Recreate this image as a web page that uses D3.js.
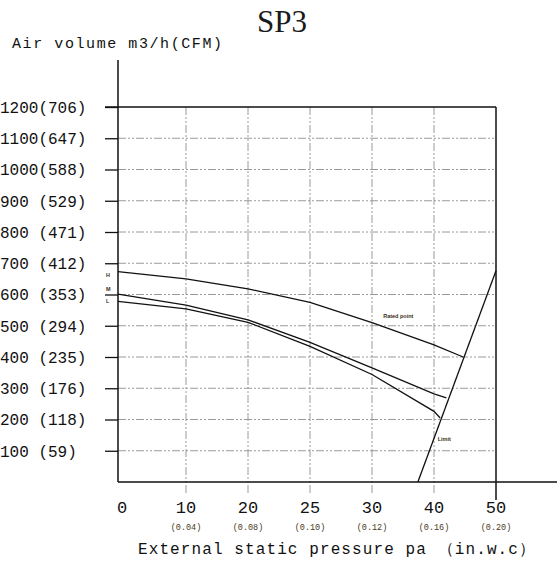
<!DOCTYPE html>
<html>
<head>
<meta charset="utf-8">
<script src="https://cdn.jsdelivr.net/npm/d3@7"></script>
<style>
  body { margin: 0; background: #fff; }
  svg { display: block; }
  .grid line { stroke: #9a9a9a; stroke-width: 1; stroke-dasharray: 8,2,2,2,2,2; }
  .lbl { font-family: "Liberation Mono", monospace; fill: #111; }
  .tiny { font-family: "Liberation Sans", Arial, sans-serif; font-weight: bold; font-size: 5.5px; fill: #3a2e1a; }
</style>
</head>
<body>
<div id="chart"></div>
<script>
// x axis categories (pa) and their in.w.c equivalents
const pressureTicks = [0, 10, 20, 25, 30, 40, 50];
const pressureInch = ["", "(0.04)", "(0.08)", "(0.10)", "(0.12)", "(0.16)", "(0.20)"];

// y axis: m3/h with CFM in brackets
const airflowTicks = [100, 200, 300, 400, 500, 600, 700, 800, 900, 1000, 1100, 1200];
const cfmTicks = [59, 118, 176, 235, 294, 353, 412, 471, 529, 588, 647, 706];

// fan curves [pressure pa, airflow m3/h]
const highSpeed = [[0, 673], [10, 650], [20, 618], [25, 575], [30, 510], [40, 439], [44.7, 400]];
const midSpeed = [[0, 601], [10, 566], [20, 519], [25, 447], [30, 365], [40, 282], [42, 269]];
const lowSpeed = [[0, 578], [10, 554], [20, 511], [25, 434], [30, 344], [40, 226], [41, 205]];
const limitLine = [[37.4, 0], [50, 676]];

const speedNames = ["H", "M", "L"];
const speedLabelAt = [661, 618, 579];

const width = 557, height = 562;
const margin = {top: 107, right: 61, bottom: 80, left: 118};
const plotW = width - margin.left - margin.right;
const plotH = height - margin.top - margin.bottom;

const svg = d3.select("#chart").append("svg")
    .attr("width", width)
    .attr("height", height);

// first gap (0 -> 10) is a bit wider than the rest
const firstGap = 6;
const x = d3.scaleLinear()
    .domain(pressureTicks)
    .range(pressureTicks.map((d, i) => margin.left + (i === 0 ? 0 : firstGap + i * (plotW - firstGap) / (pressureTicks.length - 1))));

const y = d3.scaleLinear()
    .domain([0, 1200])
    .range([margin.top + plotH, margin.top]);

// grid
const grid = svg.append("g").attr("class", "grid");
grid.selectAll(".hg")
    .data(airflowTicks.slice(0, -1))
    .join("line")
    .attr("x1", x(0)).attr("x2", x(50))
    .attr("y1", d => y(d)).attr("y2", d => y(d));
grid.selectAll(".vg")
    .data(pressureTicks.slice(1, -1))
    .join("line")
    .attr("class", "vg")
    .attr("x1", d => x(d)).attr("x2", d => x(d))
    .attr("y1", y(1200)).attr("y2", y(0) + 13);

// frame: top line, right line, axes
svg.append("line")
    .attr("x1", x(0) - 13).attr("x2", x(50))
    .attr("y1", y(1200)).attr("y2", y(1200))
    .attr("stroke", "#111").attr("stroke-width", 1.5);
svg.append("line")
    .attr("x1", x(50)).attr("x2", x(50))
    .attr("y1", y(1200)).attr("y2", y(0) + 18)
    .attr("stroke", "#111").attr("stroke-width", 1.5);

// y axis
const yAxis = d3.axisLeft(y)
    .tickValues(airflowTicks)
    .tickSize(13)
    .tickFormat("");
const yg = svg.append("g")
    .attr("transform", `translate(${x(0)},0)`)
    .call(yAxis);
yg.select(".domain").remove();
yg.selectAll(".tick line").attr("stroke", "#111").attr("stroke-width", 1.3);
svg.append("line")
    .attr("x1", x(0)).attr("x2", x(0))
    .attr("y1", 60).attr("y2", y(0))
    .attr("stroke", "#111").attr("stroke-width", 1.5);

// x axis line runs to the right edge
svg.append("line")
    .attr("x1", x(0)).attr("x2", width)
    .attr("y1", y(0)).attr("y2", y(0))
    .attr("stroke", "#111").attr("stroke-width", 1.5);

// y tick labels
svg.selectAll(".ylab")
    .data(airflowTicks)
    .join("text")
    .attr("class", "lbl")
    .attr("x", 0)
    .attr("y", d => y(d))
    .attr("dy", "0.36em")
    .style("font-size", "16px")
    .text((d, i) => d >= 1000 ? `${d}(${cfmTicks[i]})` : `${d} (${cfmTicks[i]})`);

// x tick labels
svg.selectAll(".xlab")
    .data(pressureTicks)
    .join("text")
    .attr("class", "lbl")
    .attr("x", d => x(d) + (d === 0 ? 4 : 0))
    .attr("y", y(0) + 31)
    .attr("text-anchor", "middle")
    .style("font-size", "17px")
    .text(d => d);

svg.selectAll(".xsub")
    .data(pressureInch)
    .join("text")
    .attr("x", (d, i) => x(pressureTicks[i]))
    .attr("y", y(0) + 48)
    .attr("text-anchor", "middle")
    .style("font-family", "Liberation Mono, monospace")
    .style("font-size", "8.5px")
    .style("fill", "#4a3b22")
    .text(d => d);

// titles
svg.append("text")
    .attr("x", 257).attr("y", 32)
    .style("font-family", "Liberation Serif, Times New Roman, serif")
    .style("font-size", "31px")
    .style("fill", "#1a1a1a")
    .text("SP3");

svg.append("text")
    .attr("class", "lbl")
    .attr("x", 12).attr("y", 48)
    .attr("textLength", 210)
    .attr("lengthAdjust", "spacing")
    .style("font-size", "15px")
    .text("Air volume m3/h(CFM)");

svg.append("text")
    .attr("class", "lbl")
    .attr("x", 138).attr("y", 554)
    .attr("textLength", 397)
    .attr("lengthAdjust", "spacing")
    .style("font-size", "16px")
    .text("External static pressure pa （in.w.c）");

// curves
const line = d3.line()
    .x(d => x(d[0]))
    .y(d => y(d[1]));

svg.selectAll(".curve")
    .data([highSpeed, midSpeed, lowSpeed, limitLine])
    .join("path")
    .attr("class", "curve")
    .attr("d", line)
    .attr("fill", "none")
    .attr("stroke", "#111")
    .attr("stroke-width", 1.3);

// small annotations
svg.selectAll(".spd")
    .data(speedNames)
    .join("text")
    .attr("class", "tiny")
    .attr("x", x(0) - 12)
    .attr("y", (d, i) => y(speedLabelAt[i]))
    .attr("dy", "0.35em")
    .text(d => d);

svg.append("text")
    .attr("class", "tiny")
    .attr("x", x(31.8)).attr("y", y(532))
    .attr("dy", "0.35em")
    .text("Rated point");

svg.append("text")
    .attr("class", "tiny")
    .attr("x", x(40.6)).attr("y", y(137))
    .attr("dy", "0.35em")
    .text("Limit");
</script>
</body>
</html>
